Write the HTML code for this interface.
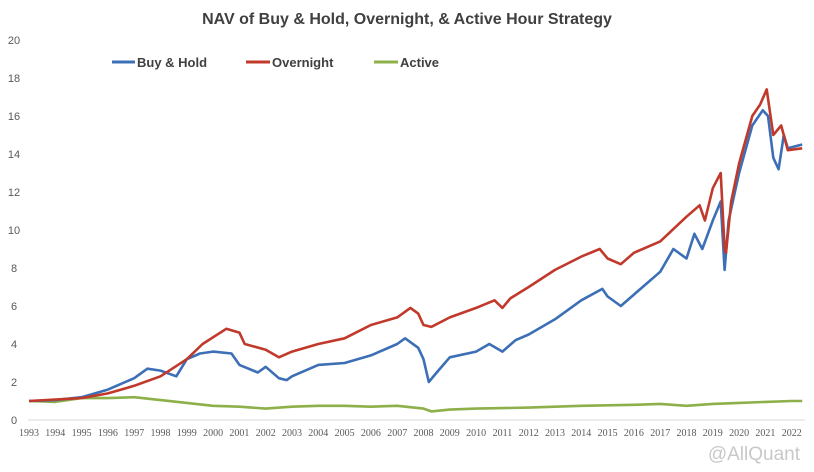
<!DOCTYPE html>
<html><head><meta charset="utf-8"><style>
body{margin:0;background:#fff;}
svg{display:block;font-family:"Liberation Sans",sans-serif;}
</style></head><body>
<svg id="chart" width="814" height="472">
<rect x="0" y="0" width="814" height="472" fill="#fff"/>
<text x="407" y="24" text-anchor="middle" font-size="16" font-weight="bold" fill="#404040">NAV of Buy &amp; Hold, Overnight, &amp; Active Hour Strategy</text>
<g id="yaxis"></g>
<g id="xaxis"></g>
<g id="series"></g>
<g>
<g><line x1="112" y1="62" x2="135" y2="62" stroke="#3c6fb6" stroke-width="3"/><text x="137" y="67" font-size="13" font-weight="bold" fill="#404040">Buy &amp; Hold</text></g>
<g><line x1="246" y1="62" x2="270" y2="62" stroke="#c0392b" stroke-width="3"/><text x="272" y="67" font-size="13" font-weight="bold" fill="#404040">Overnight</text></g>
<g><line x1="374" y1="62" x2="398" y2="62" stroke="#8db04a" stroke-width="3"/><text x="400" y="67" font-size="13" font-weight="bold" fill="#404040">Active</text></g>
</g>
<text x="800" y="460" text-anchor="end" font-size="19" fill="#c8c8c8">@AllQuant</text>
</svg>
<script>
const yTicks=[0,2,4,6,8,10,12,14,16,18,20];
const xTicks=[1993,1994,1995,1996,1997,1998,1999,2000,2001,2002,2003,2004,2005,2006,2007,2008,2009,2010,2011,2012,2013,2014,2015,2016,2017,2018,2019,2020,2021,2022];
const bhYears=[1993,1994,1995,1996,1997,1997.5,1998,1998.6,1999,1999.5,2000,2000.7,2001,2001.7,2002,2002.5,2002.8,2003,2004,2005,2006,2007,2007.3,2007.8,2008,2008.2,2008.5,2009,2010,2010.5,2011,2011.5,2012,2013,2014,2014.8,2015,2015.5,2016,2017,2017.5,2018,2018.3,2018.6,2019,2019.3,2019.45,2019.6,2020,2020.5,2020.9,2021.1,2021.3,2021.5,2021.7,2021.85,2022.4];
const bhValues=[1.0,1.05,1.2,1.6,2.2,2.7,2.6,2.3,3.2,3.5,3.6,3.5,2.9,2.5,2.8,2.2,2.1,2.3,2.9,3.0,3.4,4.0,4.3,3.8,3.2,2.0,2.5,3.3,3.6,4.0,3.6,4.2,4.5,5.3,6.3,6.9,6.5,6.0,6.6,7.8,9.0,8.5,9.8,9.0,10.5,11.5,7.9,10.5,13.0,15.5,16.3,16.0,13.8,13.2,15.0,14.3,14.5];
const onYears=[1993,1995,1996,1997,1998,1999,1999.6,2000.5,2001,2001.2,2002,2002.5,2003,2004,2005,2006,2007,2007.5,2007.8,2008,2008.3,2009,2010,2010.7,2011,2011.3,2012,2013,2014,2014.7,2015,2015.5,2016,2017,2018,2018.5,2018.7,2019,2019.3,2019.45,2019.5,2019.7,2020,2020.5,2020.8,2021.05,2021.3,2021.6,2021.85,2022.4];
const onValues=[1.0,1.15,1.4,1.8,2.3,3.2,4.0,4.8,4.6,4.0,3.7,3.3,3.6,4.0,4.3,5.0,5.4,5.9,5.6,5.0,4.9,5.4,5.9,6.3,5.9,6.4,7.0,7.9,8.6,9.0,8.5,8.2,8.8,9.4,10.7,11.3,10.5,12.2,13.0,9.0,8.8,11.5,13.5,16.0,16.6,17.4,15.0,15.5,14.2,14.3];
const acYears=[1993,1994,1995,1996,1997,1998,1999,2000,2001,2002,2003,2004,2005,2006,2007,2008,2008.3,2009,2010,2012,2014,2016,2017,2018,2019,2020,2021,2022,2022.4];
const acValues=[1.0,0.95,1.15,1.15,1.2,1.05,0.9,0.75,0.7,0.6,0.7,0.75,0.75,0.7,0.75,0.6,0.45,0.55,0.6,0.65,0.75,0.8,0.85,0.75,0.85,0.9,0.95,1.0,1.0];
const NS="http://www.w3.org/2000/svg";
function xs(y){return 29+(y-1993)*26.3;}
function ys(v){return 420-v*19;}
const ya=document.getElementById('yaxis'),xa=document.getElementById('xaxis'),sg=document.getElementById('series');
yTicks.forEach(t=>{const e=document.createElementNS(NS,'text');e.setAttribute('x',14);e.setAttribute('y',ys(t)+4);e.setAttribute('text-anchor','middle');e.setAttribute('font-size','11');e.setAttribute('fill','#595959');e.textContent=t;


ya.appendChild(e);});
const base=document.createElementNS(NS,'line');base.setAttribute('x1',28);base.setAttribute('x2',805);base.setAttribute('y1',420);base.setAttribute('y2',420);base.setAttribute('stroke','#d9d9d9');


xa.appendChild(base);
xTicks.forEach(t=>{const e=document.createElementNS(NS,'text');e.setAttribute('x',xs(t));e.setAttribute('y',436);e.setAttribute('text-anchor','middle');e.setAttribute('font-size','10');e.setAttribute('font-family','Liberation Serif, serif');e.setAttribute('fill','#595959');e.textContent=t;


xa.appendChild(e);});
function line(years,vals,color,name){const p=document.createElementNS(NS,'polyline');p.setAttribute('points',years.map((y,i)=>xs(y).toFixed(1)+','+ys(vals[i]).toFixed(1)).join(' '));p.setAttribute('fill','none');p.setAttribute('stroke',color);p.setAttribute('stroke-width','2.6');p.setAttribute('stroke-linejoin','round');


sg.appendChild(p);}
line(acYears,acValues,'#8db04a','active-line');
line(bhYears,bhValues,'#3c6fb6','buy-hold-line');
line(onYears,onValues,'#c0392b','overnight-line');
</script>
</body></html>
